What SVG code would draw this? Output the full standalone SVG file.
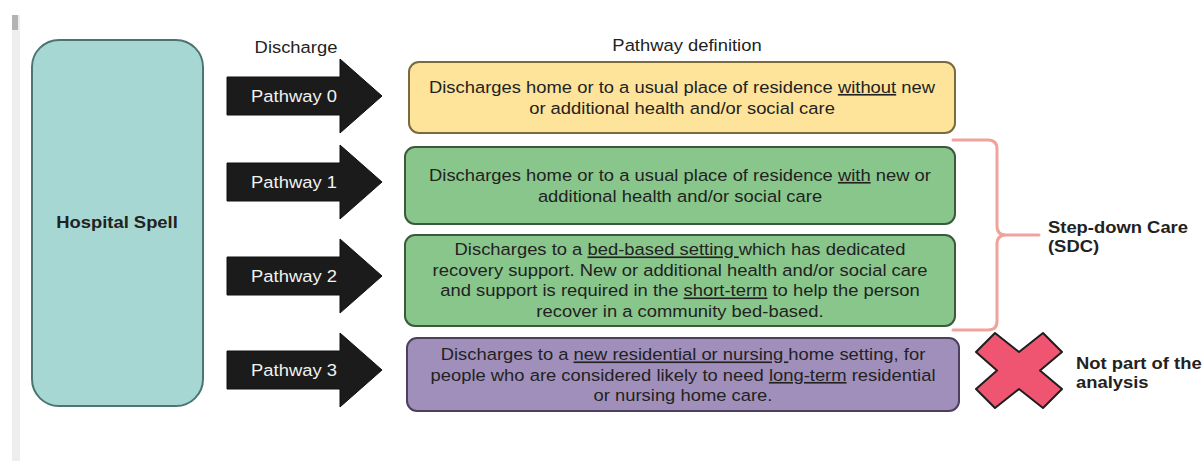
<svg xmlns="http://www.w3.org/2000/svg" width="1203" height="461" viewBox="0 0 1203 461">
  <style>
    .t { font-family: "Liberation Sans", Arial, sans-serif; font-size: 16.5px; fill: #222; }
    .c { text-anchor: middle; }
    .b { font-weight: bold; }
    .w { fill: #f2f2f2; }
    .u { text-decoration: underline; }
    .box { stroke-width: 2; }
    .arrow { fill: #1b1b1b; stroke: #111; stroke-width: 1; }
  </style>
  <defs>
    <!-- block arrow shape, drawn around its own centre line at y=0 -->
    <path id="blockArrow" d="M227,-19 H340 V-37 L382,0 L340,37 V19 H227 Z"/>
  </defs>

  <rect width="1203" height="461" fill="#fff"/>
  <!-- page edge strip -->
  <rect x="12" y="15" width="8" height="446" fill="#eeeeee"/>
  <rect x="12" y="15" width="6" height="15" fill="#b3b3b3"/>

  <!-- column headings -->
  <g id="headings">
    <g transform="translate(296,0) scale(1.115,1)"><text class="t c" x="0" y="53" fill="#222">Discharge</text></g>
    <g transform="translate(687,0) scale(1.115,1)"><text class="t c" x="0" y="51">Pathway definition</text></g>
  </g>

  <g id="hospital-spell">
    <rect x="32" y="40" width="171" height="366" rx="27" ry="27" fill="#a7d7d3" stroke="#4b7571" stroke-width="2"/>
    <g transform="translate(117,0) scale(1.115,1)"><text class="t c b" x="0" y="228">Hospital Spell</text></g>
  </g>

  <g id="connectors">
    <g id="pathway-0">
      <use href="#blockArrow" class="arrow" transform="translate(0,96)"/>
      <g transform="translate(294,0) scale(1.115,1)"><text class="t c w" x="0" y="102">Pathway 0</text></g>
    </g>
    <g id="pathway-1">
      <use href="#blockArrow" class="arrow" transform="translate(0,182)"/>
      <g transform="translate(294,0) scale(1.115,1)"><text class="t c w" x="0" y="188">Pathway 1</text></g>
    </g>
    <g id="pathway-2">
      <use href="#blockArrow" class="arrow" transform="translate(0,276)"/>
      <g transform="translate(294,0) scale(1.115,1)"><text class="t c w" x="0" y="282">Pathway 2</text></g>
    </g>
    <g id="pathway-3">
      <use href="#blockArrow" class="arrow" transform="translate(0,370)"/>
      <g transform="translate(294,0) scale(1.115,1)"><text class="t c w" x="0" y="376">Pathway 3</text></g>
    </g>
    <!-- brace grouping pathways 1 and 2 -->
    <path id="sdc-brace" d="M953,140 H988 Q997,140 997,149 V226 Q997,235 1006,235 H1039 M1006,235 Q997,235 997,244 V321 Q997,330 988,330 H953" fill="none" stroke="#f0a39c" stroke-width="3" stroke-linecap="round" stroke-linejoin="round"/>
  </g>

  <g id="definition-0">
    <rect class="box" x="409" y="62" width="546" height="71" rx="10" fill="#fde49a" stroke="#7a6b3e"/>
    <g transform="translate(682,0) scale(1.115,1)">
      <text class="t c" x="0" y="93">Discharges home or to a usual place of residence <tspan class="u">without</tspan> new</text>
      <text class="t c" x="0" y="113.6">or additional health and/or social care</text>
    </g>
  </g>

  <g id="definition-1">
    <rect class="box" x="405" y="147" width="550" height="77" rx="10" fill="#89c68b" stroke="#3b5a3c"/>
    <g transform="translate(680,0) scale(1.115,1)">
      <text class="t c" x="0" y="181">Discharges home or to a usual place of residence <tspan class="u">with</tspan> new or</text>
      <text class="t c" x="0" y="201.6">additional health and/or social care</text>
    </g>
  </g>

  <g id="definition-2">
    <rect class="box" x="405" y="235" width="550" height="91" rx="10" fill="#89c68b" stroke="#3b5a3c"/>
    <g transform="translate(680,0) scale(1.115,1)">
      <text class="t c" x="0" y="255.5">Discharges to a <tspan class="u">bed-based setting </tspan>which has dedicated</text>
      <text class="t c" x="0" y="276">recovery support. New or additional health and/or social care</text>
      <text class="t c" x="0" y="296.5">and support is required in the <tspan class="u">short-term</tspan> to help the person</text>
      <text class="t c" x="0" y="317">recover in a community bed-based.</text>
    </g>
  </g>

  <g id="definition-3">
    <rect class="box" x="407" y="338" width="552" height="73" rx="10" fill="#a08fbb" stroke="#4c405e"/>
    <g transform="translate(683,0) scale(1.115,1)">
      <text class="t c" x="0" y="360.5">Discharges to a <tspan class="u">new residential or nursing </tspan>home setting, for</text>
      <text class="t c" x="0" y="381">people who are considered likely to need <tspan class="u">long-term</tspan> residential</text>
      <text class="t c" x="0" y="401.5">or nursing home care.</text>
    </g>
  </g>

  <g id="step-down-care">
    <g transform="translate(1048,0) scale(1.115,1)">
      <text class="t b" x="0" y="233">Step-down Care</text>
      <text class="t b" x="0" y="252.5">(SDC)</text>
    </g>
  </g>

  <g id="not-in-analysis">
    <polygon points="976,352 995,333 1019,352 1043,333 1062,352 1040,370.5 1062,389 1043,408 1019,389 995,408 976,389 997,370.5" fill="#ef5570" stroke="#1e1e1e" stroke-width="2" stroke-linejoin="round"/>
    <g transform="translate(1076,0) scale(1.115,1)">
      <text class="t b" x="0" y="369">Not part of the</text>
      <text class="t b" x="0" y="388">analysis</text>
    </g>
  </g>
</svg>
